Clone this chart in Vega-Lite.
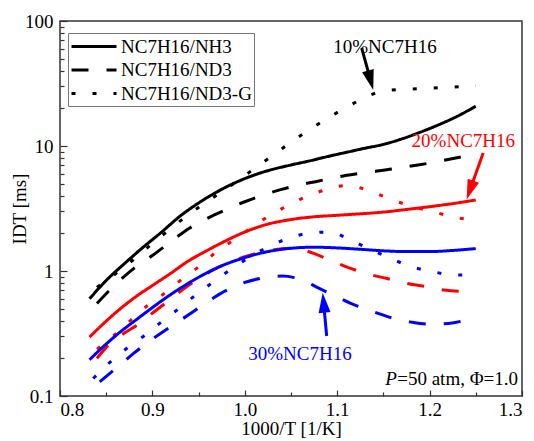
{
"$schema": "https://vega.github.io/schema/vega-lite/v6.json",
"width": 462, "height": 375,
"autosize": {"type": "none"},
"padding": {"left": 60, "top": 21, "right": 12, "bottom": 45},
"background": "white",
"config": {
  "view": {"stroke": "#333", "strokeWidth": 1.5},
  "font": "Liberation Serif, Times New Roman, DejaVu Serif, serif",
  "text": {"font": "Liberation Serif, Times New Roman, DejaVu Serif, serif"},
  "legend": {"labelFont": "Liberation Serif, Times New Roman, DejaVu Serif, serif"},
  "axis": {"labelFont": "Liberation Serif, Times New Roman, DejaVu Serif, serif", "labelFontSize": 19, "labelColor": "black", "titleFont": "Liberation Serif, Times New Roman, DejaVu Serif, serif", "titleFontSize": 19, "titleFontWeight": "normal", "titleColor": "black", "tickColor": "#333", "tickWidth": 1.2, "domain": false, "grid": false}
},
"resolve": {"axis": {"x": "independent", "y": "independent"}},
"layer": [
{
  "data": {"values": [
{"mix":"10%","fuel":"NC7H16/NH3","x":0.832,"y":0.6},{"mix":"10%","fuel":"NC7H16/NH3","x":0.85,"y":0.84},{"mix":"10%","fuel":"NC7H16/NH3","x":0.87,"y":1.15},{"mix":"10%","fuel":"NC7H16/NH3","x":0.89,"y":1.55},{"mix":"10%","fuel":"NC7H16/NH3","x":0.91,"y":2.05},{"mix":"10%","fuel":"NC7H16/NH3","x":0.93,"y":2.75},{"mix":"10%","fuel":"NC7H16/NH3","x":0.95,"y":3.5},{"mix":"10%","fuel":"NC7H16/NH3","x":0.97,"y":4.3},{"mix":"10%","fuel":"NC7H16/NH3","x":0.99,"y":5.1},{"mix":"10%","fuel":"NC7H16/NH3","x":1.01,"y":5.85},{"mix":"10%","fuel":"NC7H16/NH3","x":1.03,"y":6.5},{"mix":"10%","fuel":"NC7H16/NH3","x":1.05,"y":7.05},{"mix":"10%","fuel":"NC7H16/NH3","x":1.07,"y":7.6},{"mix":"10%","fuel":"NC7H16/NH3","x":1.09,"y":8.25},{"mix":"10%","fuel":"NC7H16/NH3","x":1.11,"y":8.9},{"mix":"10%","fuel":"NC7H16/NH3","x":1.13,"y":9.6},{"mix":"10%","fuel":"NC7H16/NH3","x":1.15,"y":10.3},{"mix":"10%","fuel":"NC7H16/NH3","x":1.17,"y":11.4},{"mix":"10%","fuel":"NC7H16/NH3","x":1.19,"y":12.9},{"mix":"10%","fuel":"NC7H16/NH3","x":1.21,"y":14.8},{"mix":"10%","fuel":"NC7H16/NH3","x":1.23,"y":17.3},{"mix":"10%","fuel":"NC7H16/NH3","x":1.25,"y":20.8},
{"mix":"10%","fuel":"NC7H16/ND3","x":0.84,"y":0.55},{"mix":"10%","fuel":"NC7H16/ND3","x":0.86,"y":0.78},{"mix":"10%","fuel":"NC7H16/ND3","x":0.88,"y":1.05},{"mix":"10%","fuel":"NC7H16/ND3","x":0.9,"y":1.33},{"mix":"10%","fuel":"NC7H16/ND3","x":0.92,"y":1.72},{"mix":"10%","fuel":"NC7H16/ND3","x":0.94,"y":2.2},{"mix":"10%","fuel":"NC7H16/ND3","x":0.96,"y":2.65},{"mix":"10%","fuel":"NC7H16/ND3","x":0.98,"y":3.1},{"mix":"10%","fuel":"NC7H16/ND3","x":1.0,"y":3.58},{"mix":"10%","fuel":"NC7H16/ND3","x":1.02,"y":4.05},{"mix":"10%","fuel":"NC7H16/ND3","x":1.04,"y":4.5},{"mix":"10%","fuel":"NC7H16/ND3","x":1.06,"y":4.9},{"mix":"10%","fuel":"NC7H16/ND3","x":1.08,"y":5.25},{"mix":"10%","fuel":"NC7H16/ND3","x":1.1,"y":5.65},{"mix":"10%","fuel":"NC7H16/ND3","x":1.12,"y":5.97},{"mix":"10%","fuel":"NC7H16/ND3","x":1.14,"y":6.25},{"mix":"10%","fuel":"NC7H16/ND3","x":1.16,"y":6.55},{"mix":"10%","fuel":"NC7H16/ND3","x":1.18,"y":6.92},{"mix":"10%","fuel":"NC7H16/ND3","x":1.2,"y":7.3},{"mix":"10%","fuel":"NC7H16/ND3","x":1.22,"y":7.8},{"mix":"10%","fuel":"NC7H16/ND3","x":1.25,"y":8.6},
{"mix":"10%","fuel":"NC7H16/ND3-G","x":0.84,"y":0.74},{"mix":"10%","fuel":"NC7H16/ND3-G","x":0.864,"y":1.0},{"mix":"10%","fuel":"NC7H16/ND3-G","x":0.882,"y":1.28},{"mix":"10%","fuel":"NC7H16/ND3-G","x":0.9,"y":1.66},{"mix":"10%","fuel":"NC7H16/ND3-G","x":0.919,"y":2.16},{"mix":"10%","fuel":"NC7H16/ND3-G","x":0.937,"y":2.75},{"mix":"10%","fuel":"NC7H16/ND3-G","x":0.957,"y":3.5},{"mix":"10%","fuel":"NC7H16/ND3-G","x":0.976,"y":4.35},{"mix":"10%","fuel":"NC7H16/ND3-G","x":0.995,"y":5.45},{"mix":"10%","fuel":"NC7H16/ND3-G","x":1.014,"y":6.9},{"mix":"10%","fuel":"NC7H16/ND3-G","x":1.033,"y":8.7},{"mix":"10%","fuel":"NC7H16/ND3-G","x":1.052,"y":11.0},{"mix":"10%","fuel":"NC7H16/ND3-G","x":1.072,"y":13.8},{"mix":"10%","fuel":"NC7H16/ND3-G","x":1.092,"y":17.1},{"mix":"10%","fuel":"NC7H16/ND3-G","x":1.112,"y":20.8},{"mix":"10%","fuel":"NC7H16/ND3-G","x":1.133,"y":25.0},{"mix":"10%","fuel":"NC7H16/ND3-G","x":1.15,"y":27.6},{"mix":"10%","fuel":"NC7H16/ND3-G","x":1.175,"y":28.4},{"mix":"10%","fuel":"NC7H16/ND3-G","x":1.2,"y":29.0},{"mix":"10%","fuel":"NC7H16/ND3-G","x":1.225,"y":29.6},{"mix":"10%","fuel":"NC7H16/ND3-G","x":1.25,"y":30.5},
{"mix":"20%","fuel":"NC7H16/NH3","x":0.832,"y":0.296},{"mix":"20%","fuel":"NC7H16/NH3","x":0.846,"y":0.373},{"mix":"20%","fuel":"NC7H16/NH3","x":0.864,"y":0.49},{"mix":"20%","fuel":"NC7H16/NH3","x":0.883,"y":0.63},{"mix":"20%","fuel":"NC7H16/NH3","x":0.9,"y":0.765},{"mix":"20%","fuel":"NC7H16/NH3","x":0.92,"y":0.96},{"mix":"20%","fuel":"NC7H16/NH3","x":0.938,"y":1.19},{"mix":"20%","fuel":"NC7H16/NH3","x":0.957,"y":1.43},{"mix":"20%","fuel":"NC7H16/NH3","x":0.975,"y":1.68},{"mix":"20%","fuel":"NC7H16/NH3","x":1.0,"y":2.05},{"mix":"20%","fuel":"NC7H16/NH3","x":1.023,"y":2.35},{"mix":"20%","fuel":"NC7H16/NH3","x":1.05,"y":2.58},{"mix":"20%","fuel":"NC7H16/NH3","x":1.074,"y":2.71},{"mix":"20%","fuel":"NC7H16/NH3","x":1.1,"y":2.79},{"mix":"20%","fuel":"NC7H16/NH3","x":1.126,"y":2.87},{"mix":"20%","fuel":"NC7H16/NH3","x":1.15,"y":2.96},{"mix":"20%","fuel":"NC7H16/NH3","x":1.174,"y":3.1},{"mix":"20%","fuel":"NC7H16/NH3","x":1.2,"y":3.27},{"mix":"20%","fuel":"NC7H16/NH3","x":1.225,"y":3.46},{"mix":"20%","fuel":"NC7H16/NH3","x":1.25,"y":3.7},
{"mix":"20%","fuel":"NC7H16/ND3","x":0.84,"y":0.2},{"mix":"20%","fuel":"NC7H16/ND3","x":0.85,"y":0.245},{"mix":"20%","fuel":"NC7H16/ND3","x":0.87,"y":0.32},{"mix":"20%","fuel":"NC7H16/ND3","x":0.885,"y":0.375},{"mix":"20%","fuel":"NC7H16/ND3","x":0.9,"y":0.46},{"mix":"20%","fuel":"NC7H16/ND3","x":0.915,"y":0.56},{"mix":"20%","fuel":"NC7H16/ND3","x":0.935,"y":0.73},{"mix":"20%","fuel":"NC7H16/ND3","x":0.97,"y":1.06},{"mix":"20%","fuel":"NC7H16/ND3","x":1.0,"y":1.3},{"mix":"20%","fuel":"NC7H16/ND3","x":1.03,"y":1.47},{"mix":"20%","fuel":"NC7H16/ND3","x":1.05,"y":1.52},{"mix":"20%","fuel":"NC7H16/ND3","x":1.065,"y":1.46},{"mix":"20%","fuel":"NC7H16/ND3","x":1.078,"y":1.35},{"mix":"20%","fuel":"NC7H16/ND3","x":1.096,"y":1.19},{"mix":"20%","fuel":"NC7H16/ND3","x":1.116,"y":1.04},{"mix":"20%","fuel":"NC7H16/ND3","x":1.136,"y":0.935},{"mix":"20%","fuel":"NC7H16/ND3","x":1.154,"y":0.87},{"mix":"20%","fuel":"NC7H16/ND3","x":1.174,"y":0.8},{"mix":"20%","fuel":"NC7H16/ND3","x":1.194,"y":0.755},{"mix":"20%","fuel":"NC7H16/ND3","x":1.212,"y":0.71},{"mix":"20%","fuel":"NC7H16/ND3","x":1.232,"y":0.69},{"mix":"20%","fuel":"NC7H16/ND3","x":1.25,"y":0.69},
{"mix":"20%","fuel":"NC7H16/ND3-G","x":0.84,"y":0.237},{"mix":"20%","fuel":"NC7H16/ND3-G","x":0.86,"y":0.313},{"mix":"20%","fuel":"NC7H16/ND3-G","x":0.876,"y":0.4},{"mix":"20%","fuel":"NC7H16/ND3-G","x":0.894,"y":0.525},{"mix":"20%","fuel":"NC7H16/ND3-G","x":0.914,"y":0.672},{"mix":"20%","fuel":"NC7H16/ND3-G","x":0.932,"y":0.859},{"mix":"20%","fuel":"NC7H16/ND3-G","x":0.95,"y":1.08},{"mix":"20%","fuel":"NC7H16/ND3-G","x":0.968,"y":1.4},{"mix":"20%","fuel":"NC7H16/ND3-G","x":0.988,"y":1.77},{"mix":"20%","fuel":"NC7H16/ND3-G","x":1.007,"y":2.22},{"mix":"20%","fuel":"NC7H16/ND3-G","x":1.027,"y":2.78},{"mix":"20%","fuel":"NC7H16/ND3-G","x":1.047,"y":3.35},{"mix":"20%","fuel":"NC7H16/ND3-G","x":1.067,"y":3.94},{"mix":"20%","fuel":"NC7H16/ND3-G","x":1.089,"y":4.5},{"mix":"20%","fuel":"NC7H16/ND3-G","x":1.112,"y":4.85},{"mix":"20%","fuel":"NC7H16/ND3-G","x":1.135,"y":4.35},{"mix":"20%","fuel":"NC7H16/ND3-G","x":1.157,"y":3.78},{"mix":"20%","fuel":"NC7H16/ND3-G","x":1.181,"y":3.28},{"mix":"20%","fuel":"NC7H16/ND3-G","x":1.203,"y":2.99},{"mix":"20%","fuel":"NC7H16/ND3-G","x":1.226,"y":2.7},{"mix":"20%","fuel":"NC7H16/ND3-G","x":1.25,"y":2.55},
{"mix":"30%","fuel":"NC7H16/NH3","x":0.832,"y":0.195},{"mix":"30%","fuel":"NC7H16/NH3","x":0.846,"y":0.245},{"mix":"30%","fuel":"NC7H16/NH3","x":0.864,"y":0.32},{"mix":"30%","fuel":"NC7H16/NH3","x":0.883,"y":0.41},{"mix":"30%","fuel":"NC7H16/NH3","x":0.9,"y":0.51},{"mix":"30%","fuel":"NC7H16/NH3","x":0.92,"y":0.65},{"mix":"30%","fuel":"NC7H16/NH3","x":0.938,"y":0.79},{"mix":"30%","fuel":"NC7H16/NH3","x":0.957,"y":0.95},{"mix":"30%","fuel":"NC7H16/NH3","x":0.975,"y":1.1},{"mix":"30%","fuel":"NC7H16/NH3","x":1.0,"y":1.28},{"mix":"30%","fuel":"NC7H16/NH3","x":1.023,"y":1.42},{"mix":"30%","fuel":"NC7H16/NH3","x":1.05,"y":1.52},{"mix":"30%","fuel":"NC7H16/NH3","x":1.074,"y":1.55},{"mix":"30%","fuel":"NC7H16/NH3","x":1.1,"y":1.53},{"mix":"30%","fuel":"NC7H16/NH3","x":1.126,"y":1.49},{"mix":"30%","fuel":"NC7H16/NH3","x":1.15,"y":1.45},{"mix":"30%","fuel":"NC7H16/NH3","x":1.174,"y":1.43},{"mix":"30%","fuel":"NC7H16/NH3","x":1.2,"y":1.43},{"mix":"30%","fuel":"NC7H16/NH3","x":1.225,"y":1.46},{"mix":"30%","fuel":"NC7H16/NH3","x":1.25,"y":1.51},
{"mix":"30%","fuel":"NC7H16/ND3","x":0.843,"y":0.13},{"mix":"30%","fuel":"NC7H16/ND3","x":0.86,"y":0.165},{"mix":"30%","fuel":"NC7H16/ND3","x":0.88,"y":0.22},{"mix":"30%","fuel":"NC7H16/ND3","x":0.9,"y":0.285},{"mix":"30%","fuel":"NC7H16/ND3","x":0.92,"y":0.36},{"mix":"30%","fuel":"NC7H16/ND3","x":0.94,"y":0.45},{"mix":"30%","fuel":"NC7H16/ND3","x":0.96,"y":0.57},{"mix":"30%","fuel":"NC7H16/ND3","x":0.98,"y":0.7},{"mix":"30%","fuel":"NC7H16/ND3","x":1.0,"y":0.81},{"mix":"30%","fuel":"NC7H16/ND3","x":1.02,"y":0.88},{"mix":"30%","fuel":"NC7H16/ND3","x":1.04,"y":0.91},{"mix":"30%","fuel":"NC7H16/ND3","x":1.06,"y":0.86},{"mix":"30%","fuel":"NC7H16/ND3","x":1.08,"y":0.73},{"mix":"30%","fuel":"NC7H16/ND3","x":1.1,"y":0.62},{"mix":"30%","fuel":"NC7H16/ND3","x":1.12,"y":0.53},{"mix":"30%","fuel":"NC7H16/ND3","x":1.14,"y":0.47},{"mix":"30%","fuel":"NC7H16/ND3","x":1.16,"y":0.42},{"mix":"30%","fuel":"NC7H16/ND3","x":1.18,"y":0.39},{"mix":"30%","fuel":"NC7H16/ND3","x":1.2,"y":0.375},{"mix":"30%","fuel":"NC7H16/ND3","x":1.22,"y":0.38},{"mix":"30%","fuel":"NC7H16/ND3","x":1.25,"y":0.43},
{"mix":"30%","fuel":"NC7H16/ND3-G","x":0.836,"y":0.138},{"mix":"30%","fuel":"NC7H16/ND3-G","x":0.854,"y":0.186},{"mix":"30%","fuel":"NC7H16/ND3-G","x":0.872,"y":0.24},{"mix":"30%","fuel":"NC7H16/ND3-G","x":0.892,"y":0.307},{"mix":"30%","fuel":"NC7H16/ND3-G","x":0.91,"y":0.392},{"mix":"30%","fuel":"NC7H16/ND3-G","x":0.93,"y":0.51},{"mix":"30%","fuel":"NC7H16/ND3-G","x":0.948,"y":0.652},{"mix":"30%","fuel":"NC7H16/ND3-G","x":0.966,"y":0.817},{"mix":"30%","fuel":"NC7H16/ND3-G","x":0.986,"y":1.045},{"mix":"30%","fuel":"NC7H16/ND3-G","x":1.006,"y":1.3},{"mix":"30%","fuel":"NC7H16/ND3-G","x":1.025,"y":1.56},{"mix":"30%","fuel":"NC7H16/ND3-G","x":1.045,"y":1.8},{"mix":"30%","fuel":"NC7H16/ND3-G","x":1.068,"y":2.0},{"mix":"30%","fuel":"NC7H16/ND3-G","x":1.092,"y":2.05},{"mix":"30%","fuel":"NC7H16/ND3-G","x":1.114,"y":1.77},{"mix":"30%","fuel":"NC7H16/ND3-G","x":1.135,"y":1.5},{"mix":"30%","fuel":"NC7H16/ND3-G","x":1.157,"y":1.27},{"mix":"30%","fuel":"NC7H16/ND3-G","x":1.179,"y":1.09},{"mix":"30%","fuel":"NC7H16/ND3-G","x":1.203,"y":0.99},{"mix":"30%","fuel":"NC7H16/ND3-G","x":1.226,"y":0.93},{"mix":"30%","fuel":"NC7H16/ND3-G","x":1.25,"y":0.93}
  ]},
  "mark": {"type": "line", "strokeWidth": 3, "interpolate": "monotone"},
  "encoding": {
    "x": {"field": "x", "type": "quantitative", "scale": {"domain": [0.8, 1.3], "nice": false, "zero": false},
      "axis": {"orient": "bottom", "values": [0.8, 0.9, 1.0, 1.1, 1.2, 1.3], "format": ".1f", "tickSize": -6, "labelPadding": 10, "title": "1000/T [1/K]", "titlePadding": 0}},
    "y": {"field": "y", "type": "quantitative", "scale": {"type": "log", "domain": [0.1, 100], "nice": false},
      "axis": {"orient": "left", "values": [0.1, 1, 10, 100], "format": "~g", "tickSize": -7, "labelPadding": 14, "title": "IDT [ms]", "titlePadding": -5}},
    "color": {"field": "mix", "type": "nominal", "scale": {"domain": ["10%", "20%", "30%"], "range": ["black", "#ff0000", "#0000ff"]}, "legend": null},
    "strokeDash": {"field": "fuel", "type": "nominal",
      "scale": {"domain": ["NC7H16/NH3", "NC7H16/ND3", "NC7H16/ND3-G"], "range": [[1, 0], [17, 18], [4, 17]]},
      "legend": {"title": null, "orient": "none", "legendX": 8, "legendY": 12, "symbolType": "M-1,0L3.5,0", "symbolSize": 400, "symbolStrokeWidth": 3, "symbolStrokeColor": "black", "labelFontSize": 19, "labelColor": "black", "labelOffset": 28, "rowPadding": 1.5, "padding": 2, "strokeColor": "#777", "fillColor": "white", "labelLimit": 300}}
  }
},
{
  "data": {"values": [
    {"mix": "10%", "x": 1.139, "y": 28.1, "ang": -15.5},
    {"mix": "20%", "x": 1.2401, "y": 3.73, "ang": 19.5},
    {"mix": "30%", "x": 1.0843, "y": 0.671, "ang": 174.7}
  ]},
  "mark": {"type": "point", "shape": "M0,0L-0.6,-2L0.6,-2Z", "filled": true, "size": 400, "opacity": 1},
  "encoding": {
    "x": {"field": "x", "type": "quantitative", "axis": {"orient": "bottom", "values": [0.85, 0.95, 1.05, 1.15, 1.25], "labels": false, "tickSize": -4, "title": null}},
    "y": {"field": "y", "type": "quantitative", "axis": {"orient": "left", "values": [0.2,0.3,0.4,0.5,0.6,0.7,0.8,0.9,2,3,4,5,6,7,8,9,20,30,40,50,60,70,80,90], "labels": false, "tickSize": -4, "title": null}},
    "angle": {"field": "ang", "type": "quantitative", "scale": null},
    "color": {"field": "mix", "type": "nominal", "legend": null}
  }
},
{
  "data": {"values": [
    {"mix": "10%", "x": 1.1265, "y": 60.6, "x2": 1.1361, "y2": 33.6},
    {"mix": "20%", "x": 1.258, "y": 8.8, "x2": 1.2437, "y2": 4.44},
    {"mix": "30%", "x": 1.0886, "y": 0.302, "x2": 1.0853, "y2": 0.559}
  ]},
  "mark": {"type": "rule", "strokeWidth": 3},
  "encoding": {
    "x": {"field": "x", "type": "quantitative", "axis": null},
    "y": {"field": "y", "type": "quantitative", "axis": null},
    "x2": {"field": "x2"},
    "y2": {"field": "y2"},
    "color": {"field": "mix", "type": "nominal", "legend": null}
  }
},
{
  "data": {"values": [
    {"mix": "10%", "x": 1.1517, "y": 62, "t": "10%NC7H16"},
    {"mix": "20%", "x": 1.2365, "y": 10.9, "t": "20%NC7H16"},
    {"mix": "30%", "x": 1.0597, "y": 0.216, "t": "30%NC7H16"}
  ]},
  "mark": {"type": "text", "fontSize": 19, "align": "center", "baseline": "middle"},
  "encoding": {
    "x": {"field": "x", "type": "quantitative", "axis": null},
    "y": {"field": "y", "type": "quantitative", "axis": null},
    "text": {"field": "t"},
    "color": {"field": "mix", "type": "nominal", "legend": null}
  }
},
{
  "data": {"values": [{"x": 1.2957, "y": 0.136, "t": "=50 atm, Φ=1.0"}]},
  "mark": {"type": "text", "fontSize": 19, "align": "right", "baseline": "middle", "color": "black"},
  "encoding": {
    "x": {"field": "x", "type": "quantitative", "axis": null},
    "y": {"field": "y", "type": "quantitative", "axis": null},
    "text": {"field": "t"}
  }
},
{
  "data": {"values": [{"x": 1.1647, "y": 0.136, "t": "P"}]},
  "mark": {"type": "text", "fontSize": 19, "fontStyle": "italic", "align": "right", "baseline": "middle", "color": "black"},
  "encoding": {
    "x": {"field": "x", "type": "quantitative", "axis": null},
    "y": {"field": "y", "type": "quantitative", "axis": null},
    "text": {"field": "t"}
  }
}
]
}
